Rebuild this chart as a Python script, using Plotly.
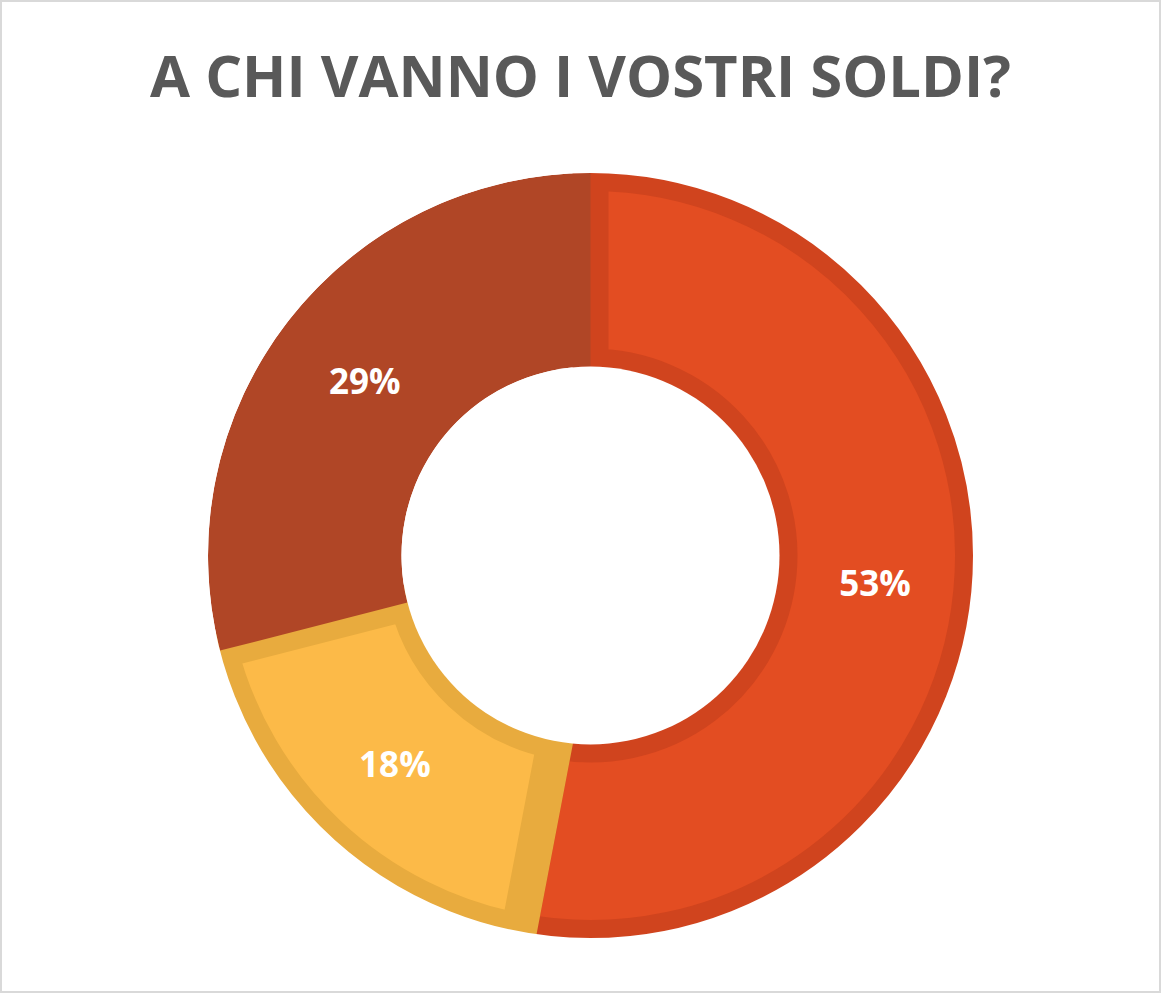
import plotly.graph_objects as go

W, H = 1161, 993

# data
labels = ["Quota A", "Quota B", "Quota C"]
values = [53, 18, 29]
fill_colors = ["#E34D22", "#FCBA48", "#B04626"]
edge_colors = ["#D0441E", "#E8AB3E", "#B04626"]
edge_widths = [36, 36, 0]   # inner border = half of this, the outer half is masked

title_text = "A CHI VANNO I VOSTRI SOLDI?"

# geometry of the ring (pixels)
cx, cy = 590.5, 555.5
R = 382.5
r_in = 189


def dom(rad):
    # square domain of given radius around the ring centre, in paper units
    return dict(x=[(cx - rad) / W, (cx + rad) / W],
                y=[(H - cy - rad) / H, (H - cy + rad) / H])


fig = go.Figure()

# main donut
fig.add_trace(go.Pie(
    labels=labels, values=values, sort=False,
    direction="clockwise", rotation=0,
    hole=r_in / R, domain=dom(R),
    marker=dict(colors=fill_colors,
                line=dict(color=edge_colors, width=edge_widths)),
    textinfo="percent", textposition="inside",
    insidetextorientation="horizontal",
    textfont=dict(family="Open Sans", size=35, color="white", weight="bold"),
    showlegend=False, hoverinfo="label+percent",
))

# white disc hiding the stroke overflow inside the hole
fig.add_trace(go.Pie(
    values=[1], domain=dom(r_in), sort=False,
    marker=dict(colors=["white"], line=dict(width=0)),
    textinfo="none", hoverinfo="skip", showlegend=False,
))

# white ring hiding the stroke overflow outside the donut
fig.add_trace(go.Pie(
    values=[1], domain=dom(R + 12), sort=False,
    marker=dict(colors=["rgba(0,0,0,0)"], line=dict(color="white", width=24)),
    textinfo="none", hoverinfo="skip", showlegend=False,
))

fig.update_layout(
    width=W, height=H,
    margin=dict(l=0, r=0, t=0, b=0),
    paper_bgcolor="white",
    title=dict(text=title_text, x=0.5, xanchor="center",
               y=1 - 77 / H, yanchor="middle",
               font=dict(family="Open Sans", size=58, color="#595959", weight="bold")),
    shapes=[dict(type="rect", xref="paper", yref="paper", x0=0, x1=1, y0=0, y1=1,
                 line=dict(color="#D9D9D9", width=4), layer="above")],
)

fig.write_html("out.html", config={"displayModeBar": False},
               post_script="document.body.style.margin='0px';")
